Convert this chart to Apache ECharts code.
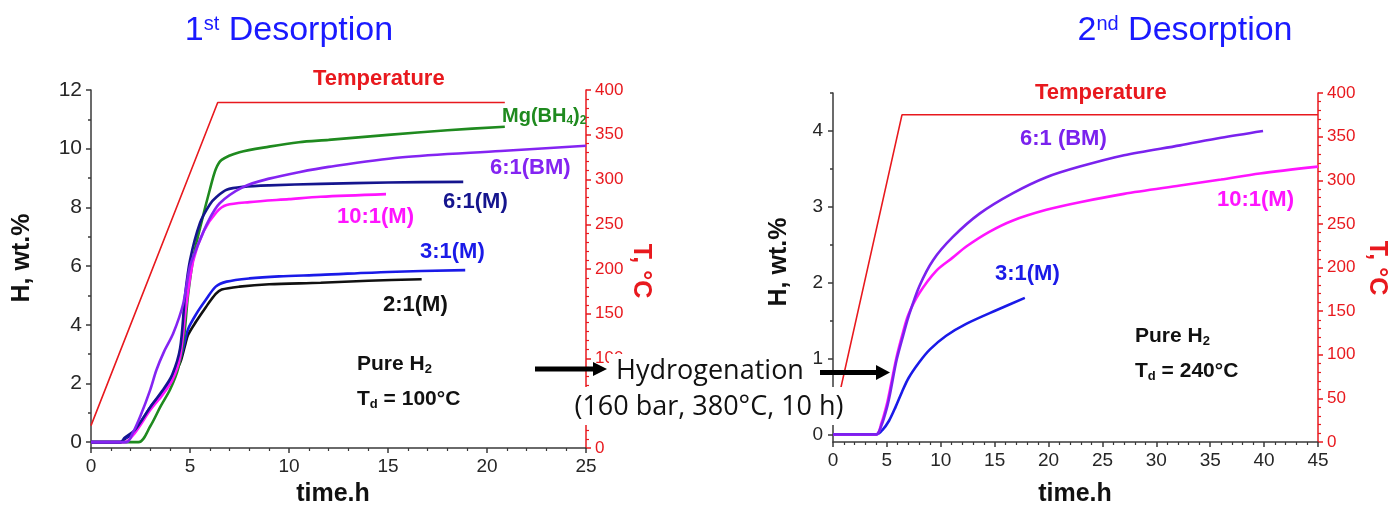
<!DOCTYPE html>
<html>
<head>
<meta charset="utf-8">
<script src="https://cdn.jsdelivr.net/npm/echarts@6/dist/echarts.min.js"></script>
<style>
html,body{margin:0;padding:0;background:#fff;}
#c{width:1389px;height:508px;}
</style>
</head>
<body>
<div id="c"></div>
<script>
// ---------- data (time in h, H in wt.%, T in °C) ----------
// 1st desorption
const temp1 = [[0,25],[6.4,386],[20.9,386]];
const mgbh4 = [[0,0],[2.4,0],[3,0.55],[3.5,1.2],[4,1.8],[4.4,2.5],[4.7,3.6],[4.9,5.0],[5.2,6.4],[5.6,7.55],[6.0,8.6],[6.3,9.3],[6.6,9.62],[7.5,9.88],[9,10.07],[10.5,10.22],[12,10.3],[15,10.47],[18,10.63],[20.9,10.75]];
const bm6_1 = [[0,0],[1.8,0],[2.1,0.3],[2.5,0.9],[3,1.8],[3.3,2.45],[3.7,3.1],[4.15,3.7],[4.65,4.7],[5.0,6.0],[5.33,6.6],[5.9,7.5],[6.5,8.14],[7.7,8.7],[9,8.98],[10.5,9.2],[12,9.38],[15.6,9.7],[20.7,9.92],[25,10.1]];
const m6_1 = [[0,0],[1.5,0],[1.7,0.15],[2.2,0.4],[3,1.2],[3.6,1.75],[4.1,2.3],[4.5,3.2],[4.75,5.0],[5.0,6.2],[5.5,7.46],[6.0,8.1],[6.35,8.36],[6.85,8.6],[7.7,8.7],[9,8.75],[11.6,8.8],[15,8.85],[18.8,8.87]];
const m10_1 = [[0,0],[1.7,0],[2.2,0.3],[3,1.1],[3.6,1.6],[4.1,2.1],[4.5,2.9],[4.8,4.6],[5.17,6.2],[5.7,7.2],[6.35,7.85],[6.85,8.08],[8,8.18],[10,8.28],[11.6,8.36],[14.9,8.45]];
const m3_1 = [[0,0],[1.5,0],[1.7,0.12],[2.2,0.38],[3,1.2],[3.6,1.7],[4.1,2.2],[4.5,2.8],[4.75,3.45],[4.9,3.85],[5.3,4.35],[5.8,4.85],[6.3,5.3],[6.85,5.47],[8,5.58],[9.5,5.65],[11.6,5.7],[15,5.8],[18.9,5.86]];
const m2_1 = [[0,0],[1.5,0],[1.7,0.1],[2.2,0.35],[3,1.15],[3.6,1.65],[4.1,2.15],[4.5,2.7],[4.75,3.3],[4.9,3.65],[5.3,4.1],[5.8,4.6],[6.3,5.05],[6.6,5.2],[7.5,5.3],[9,5.38],[11.6,5.43],[14,5.5],[16.7,5.55]];
// 2nd desorption
const temp2 = [[0,22],[6.4,375],[45,375]];
const bm6_1b = [[0,0],[4,0],[4.5,0.12],[5,0.35],[5.3,0.54],[5.9,0.98],[6.5,1.3],[7,1.55],[8,1.95],[9.3,2.3],[11.1,2.6],[13.6,2.91],[16.7,3.18],[19.8,3.39],[22.9,3.53],[27,3.68],[32.2,3.81],[36,3.91],[39.9,4.0]];
const m10_1b = [[0,0],[4,0],[4.5,0.15],[5,0.4],[5.3,0.6],[5.9,1.02],[6.5,1.35],[7,1.58],[8,1.86],[9.6,2.16],[11.1,2.33],[12.4,2.48],[14.5,2.67],[16.7,2.82],[19.8,2.96],[22.9,3.06],[27,3.17],[32.2,3.28],[36,3.36],[39.6,3.44],[45,3.53]];
const m3_1b = [[0,0],[4.05,0],[4.6,0.06],[5.2,0.18],[5.8,0.36],[6.4,0.56],[7.0,0.74],[8.0,0.95],[9.0,1.12],[10.5,1.3],[12.4,1.46],[15.2,1.64],[17.8,1.8]];
// tick labels
const hTicks1 = [0,2,4,6,8,10,12];
const hMinor1 = [1,3,5,7,9,11];
const hTicks2 = [0,1,2,3,4];
const hMinor2 = [0.5,1.5,2.5,3.5,4.5];

const RED = '#e8191e';
const FONT = 'Arial, "Liberation Sans", sans-serif';
const AX = '#3a3a3a';

function hAxis(grid, min, max, vals, fs, margin) {
  return {type:'value', gridIndex:grid, position:'left', min:min, max:max,
    axisLine:{show:true, onZero:false, lineStyle:{color:AX, width:1.5}},
    axisTick:{show:true, inside:false, length:5, customValues:vals, lineStyle:{color:AX, width:1.5}},
    axisLabel:{show:true, customValues:vals, fontSize:fs, color:'#262626', fontFamily:FONT, margin:margin},
    splitLine:{show:false}};
}
function hMinor(grid, min, max, vals) {
  return {type:'value', gridIndex:grid, position:'left', min:min, max:max,
    axisLine:{show:false}, axisLabel:{show:false}, splitLine:{show:false},
    axisTick:{show:true, inside:false, length:3, customValues:vals, lineStyle:{color:AX, width:1.5}}};
}
function tAxis(grid) {
  return {type:'value', gridIndex:grid, position:'right', min:0, max:400, interval:50,
    axisLine:{show:true, onZero:false, lineStyle:{color:RED, width:1.5}},
    axisTick:{show:true, inside:false, length:5, lineStyle:{color:RED, width:1.5}},
    minorTick:{show:true, splitNumber:5, length:3, lineStyle:{color:RED, width:1.2}},
    axisLabel:{fontSize:17, color:RED, fontFamily:FONT, margin:9},
    splitLine:{show:false}, minorSplitLine:{show:false}};
}
function xAxis(grid, max) {
  return {type:'value', gridIndex:grid, min:0, max:max, interval:5,
    axisLine:{show:true, onZero:false, lineStyle:{color:AX, width:1.5}},
    axisTick:{show:true, inside:false, length:5, lineStyle:{color:AX, width:1.5}},
    minorTick:{show:true, splitNumber:5, length:3, lineStyle:{color:AX, width:1.2}},
    axisLabel:{fontSize:19, color:'#262626', fontFamily:FONT, margin:9},
    splitLine:{show:false}, minorSplitLine:{show:false}};
}
function line(data, color, x, y, w, sm) {
  return {type:'line', data:data, xAxisIndex:x, yAxisIndex:y, showSymbol:false, symbol:'none',
    smooth:(sm===undefined?0.3:sm), lineStyle:{color:color, width:w||2.6}, z:3, silent:true};
}
function lbl(text, x, y, color, fs, extra) {
  const rich = {
    a:{fontSize:fs, fontWeight:'bold', fontFamily:FONT, fill:color, color:color},
    s:{fontSize:Math.round(fs*0.62), fontWeight:'bold', fontFamily:FONT, fill:color, color:color, verticalAlign:'bottom', padding:[fs*0.5,0,0,0]}
  };
  return Object.assign({type:'text', x:x, y:y, z:50, style:{text:text, rich:rich, fill:color, align:'left', verticalAlign:'middle', font:'bold '+fs+'px '+FONT}}, extra||{});
}
const titleRich = {a:{fontSize:34, fontFamily:FONT, fill:'#1a1aff', color:'#1a1aff'}, s:{fontSize:20, fontFamily:FONT, fill:'#1a1aff', color:'#1a1aff', verticalAlign:'top'}};

const chart = echarts.init(document.getElementById('c'), null, {renderer:'canvas'});
chart.setOption({
  animation:false,
  backgroundColor:'#fff',
  grid:[
    {left:91, top:90, width:495, height:358},
    {left:833, top:93, width:485, height:349}
  ],
  xAxis:[xAxis(0,25), xAxis(1,45)],
  yAxis:[
    hAxis(0,-0.2,12,hTicks1,21,9), hMinor(0,-0.2,12,hMinor1), tAxis(0),
    hAxis(1,-0.1,4.5,hTicks2,19,10), hMinor(1,-0.1,4.5,hMinor2), tAxis(1)
  ],
  series:[
    line(temp1, RED, 0, 2, 1.6, false),
    line(m2_1, '#111111', 0, 0),
    line(m3_1, '#1a1ae8', 0, 0),
    line(mgbh4, '#1f8a1f', 0, 0),
    line(m10_1, '#ff14ff', 0, 0),
    line(m6_1, '#15158e', 0, 0),
    line(bm6_1, '#8424f2', 0, 0),
    line(temp2, RED, 1, 5, 1.6, false),
    line(m3_1b, '#1a1ae8', 1, 3),
    line(m10_1b, '#ff14ff', 1, 3),
    line(bm6_1b, '#7a22ee', 1, 3)
  ],
  graphic:[
    // titles
    {type:'text', x:289, y:31, z:50, style:{text:'{a|1}{s|st}{a| Desorption}', align:'center', verticalAlign:'middle', rich:titleRich}},
    {type:'text', x:1185, y:31, z:50, style:{text:'{a|2}{s|nd}{a| Desorption}', align:'center', verticalAlign:'middle', rich:titleRich}},
    // axis titles
    {type:'text', x:22, y:258, rotation:Math.PI/2, z:50, style:{text:'H, wt.%', align:'center', verticalAlign:'middle', font:'bold 25px '+FONT, fill:'#111'}},
    {type:'text', x:779, y:262, rotation:Math.PI/2, z:50, style:{text:'H, wt.%', align:'center', verticalAlign:'middle', font:'bold 25px '+FONT, fill:'#111'}},
    {type:'text', x:641, y:271, rotation:-Math.PI/2, z:50, style:{text:'T, °C', align:'center', verticalAlign:'middle', font:'bold 25px '+FONT, fill:RED}},
    {type:'text', x:1377, y:268, rotation:-Math.PI/2, z:50, style:{text:'T, °C', align:'center', verticalAlign:'middle', font:'bold 25px '+FONT, fill:RED}},
    {type:'text', x:333, y:494, z:50, style:{text:'time.h', align:'center', verticalAlign:'middle', font:'bold 25px '+FONT, fill:'#111'}},
    {type:'text', x:1075, y:494, z:50, style:{text:'time.h', align:'center', verticalAlign:'middle', font:'bold 25px '+FONT, fill:'#111'}},
    // left chart labels
    lbl('{a|Temperature}', 313, 79, RED, 22),
    lbl('{a|Mg(BH}{s|4}{a|)}{s|2}', 502, 116, '#1f8a1f', 20),
    lbl('{a|6:1(BM)}', 490, 168, '#8424f2', 22),
    lbl('{a|6:1(M)}', 443, 202, '#15158e', 22),
    lbl('{a|10:1(M)}', 337, 217, '#ff14ff', 22),
    lbl('{a|3:1(M)}', 420, 252, '#1a1ae8', 22),
    lbl('{a|2:1(M)}', 383, 305, '#111111', 22),
    lbl('{a|Pure H}{s|2}', 357, 364, '#111111', 21),
    lbl('{a|T}{s|d}{a| = 100°C}', 357, 399, '#111111', 21),
    // right chart labels
    lbl('{a|Temperature}', 1035, 93, RED, 22),
    lbl('{a|6:1 (BM)}', 1020, 139, '#7a22ee', 22),
    lbl('{a|10:1(M)}', 1217, 200, '#ff14ff', 22),
    lbl('{a|3:1(M)}', 995, 274, '#1a1ae8', 22),
    lbl('{a|Pure H}{s|2}', 1135, 336, '#111111', 21),
    lbl('{a|T}{s|d}{a| = 240°C}', 1135, 371, '#111111', 21),
    // hydrogenation note
    {type:'rect', z:60, shape:{x:609, y:354, width:202, height:33}, style:{fill:'#fff'}},
    {type:'rect', z:60, shape:{x:566, y:387, width:286, height:38}, style:{fill:'#fff'}},
    {type:'text', x:710, y:371, z:61, style:{text:'Hydrogenation', align:'center', verticalAlign:'middle', font:'27px "Open Sans", sans-serif', fill:'#111'}},
    {type:'text', x:709, y:407, z:61, style:{text:'(160 bar, 380°C, 10 h)', align:'center', verticalAlign:'middle', font:'27px "Open Sans", sans-serif', fill:'#111'}},
    {type:'rect', z:62, shape:{x:535, y:366.5, width:60, height:5}, style:{fill:'#000'}},
    {type:'polygon', z:62, shape:{points:[[593,362],[607,369],[593,376]]}, style:{fill:'#000'}},
    {type:'rect', z:62, shape:{x:820, y:370, width:58, height:5}, style:{fill:'#000'}},
    {type:'polygon', z:62, shape:{points:[[876,365],[890,372.5],[876,380]]}, style:{fill:'#000'}}
  ]
});
</script>
</body>
</html>
